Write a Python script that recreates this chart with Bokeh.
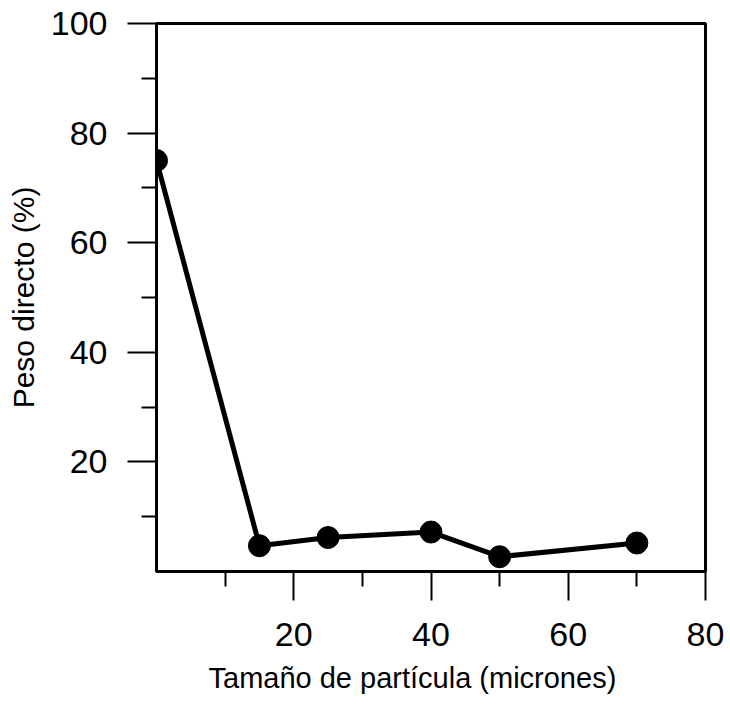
from bokeh.plotting import figure
from bokeh.models import FixedTicker, Range1d, ColumnDataSource, Title
from bokeh.embed import file_html
from bokeh.resources import INLINE

# Data
particle_size = [0, 15, 25, 40, 50, 70]
direct_weight = [75, 4.7, 6.2, 7.2, 2.7, 5.2]

x_major = [20, 40, 60, 80]
x_minor = [10, 30, 50, 70]
y_major = [20, 40, 60, 80, 100]
y_minor = [10, 30, 50, 70, 90]

x_title = "Tamaño de partícula (micrones)"
y_title = "Peso directo (%)"

src = ColumnDataSource(data=dict(x=particle_size, y=direct_weight))

p = figure(width=730, height=705, output_backend="svg", toolbar_location=None,
           x_range=Range1d(0, 80), y_range=Range1d(0, 100),
           min_border_left=156, min_border_right=25, min_border_top=23, min_border_bottom=134)

p.background_fill_color = "white"
p.border_fill_color = "white"
p.outline_line_color = "black"
p.outline_line_width = 3
p.grid.visible = False

p.line("x", "y", source=src, line_color="black", line_width=5)
p.scatter("x", "y", source=src, size=22, fill_color="black", line_color="black")

FONT = "Liberation Sans"

for ax, maj, mnr in ((p.xaxis[0], x_major, x_minor), (p.yaxis[0], y_major, y_minor)):
    ax.ticker = FixedTicker(ticks=maj, minor_ticks=mnr)
    ax.axis_line_color = "black"
    ax.axis_line_width = 2
    ax.major_tick_line_color = "black"
    ax.major_tick_line_width = 2
    ax.minor_tick_line_color = "black"
    ax.minor_tick_line_width = 2
    ax.major_tick_out = 29
    ax.major_tick_in = 0
    ax.minor_tick_out = 15
    ax.minor_tick_in = 0
    ax.major_label_text_font = FONT
    ax.major_label_text_font_size = "34px"
    ax.major_label_text_color = "black"
    ax.axis_label_text_font = FONT
    ax.axis_label_text_font_style = "normal"
    ax.axis_label_text_color = "black"

p.yaxis.axis_label = y_title
p.yaxis.axis_label_text_font_size = "30px"
p.xaxis.major_label_standoff = 22
p.yaxis.major_label_standoff = 20
p.yaxis.axis_label_standoff = 8

p.add_layout(Title(text=x_title, align="left", offset=52, standoff=22,
                   text_font=FONT, text_font_size="29px", text_font_style="normal",
                   text_color="black"), "below")

open("out.html", "w").write(file_html(p, INLINE))
